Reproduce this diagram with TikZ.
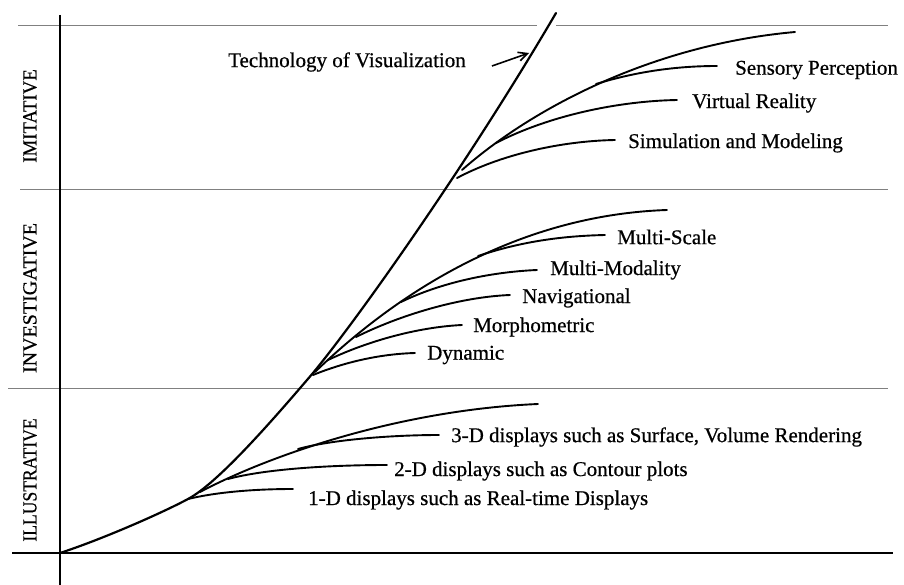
\documentclass[tikz,border=0pt]{standalone}
\usepackage{fontspec}
\setmainfont{Liberation Serif}[RawFeature={embolden=0.6}]
\usetikzlibrary{arrows.meta}
\begin{document}
\begin{tikzpicture}[x=1pt,y=-1pt,
  grid/.style={draw=black!50, line width=1pt},
  axisline/.style={draw=black, line width=1.6pt},
  trunk/.style={draw=black, line width=2.2pt, line cap=round},
  branch/.style={draw=black, line width=1.9pt, line cap=round},
  lbl/.style={anchor=west, inner sep=0pt, font=\fontsize{21}{24}\selectfont},
  band/.style={rotate=90, inner sep=0pt, font=\fontsize{20}{22}\selectfont}]
\useasboundingbox (0,0) rectangle (904,585);

% band separators, base line and vertical axis
\draw[grid] (18,26) -- (537,26);
\draw[grid] (556,26) -- (888,26);
\draw[grid] (20,190) -- (888,190);
\draw[grid] (8,388) -- (888,388);
\draw[axisline] (12,553) -- (893,553);
\draw[axisline] (60,15) -- (60,585);

% band names
\node[band] (imit) at (30,116) {\scalebox{0.94}[1]{IMITATIVE}};
\node[band] (inv)  at (30,298) {INVESTIGATIVE};
\node[band] (ill)  at (30,480) {\scalebox{0.88}[1]{ILLUSTRATIVE}};

% main growth curve, three tangent-continuous pieces
\coordinate (o)  at (60,553);
\coordinate (p1) at (188,499);
\coordinate (p2) at (313,373);
\coordinate (top) at (556,13);
\draw[trunk] (o) .. controls (100,540) and (160,514) .. (p1)
  .. controls (218,483) and (272,421) .. (p2)
  .. controls (360,316) and (470,160) .. (top);

% labels
\node[lbl] (tech) at (228,62)  {Technology of Visualization};
\node[lbl] (sens) at (735,70)  {Sensory Perception};
\node[lbl] (vr)   at (692,103) {Virtual Reality};
\node[lbl] (sim)  at (628,143) {Simulation and Modeling};
\node[lbl] (msc)  at (617,237) {Multi-Scale};
\node[lbl] (mmo)  at (550,270) {Multi-Modality};
\node[lbl] (nav)  at (522,298) {Navigational};
\node[lbl] (mor)  at (473,327) {Morphometric};
\node[lbl] (dyn)  at (427,355) {Dynamic};
\node[lbl] (d3)   at (451,437) {3-D displays such as Surface, Volume Rendering};
\node[lbl] (d2)   at (394,471) {2-D displays such as Contour plots};
\node[lbl] (d1)   at (308,500) {1-D displays such as Real-time Displays};

% arrow to the curve
\coordinate (tt) at (492,66);
\coordinate (th) at (529,53);
\draw[line width=1.6pt, -{Straight Barb[length=9pt,width=9pt]}] (tt) -- (th);

% imitative branches
\coordinate (m0) at (462,170);
\coordinate (mE) at (795,32);
\coordinate (s0) at (596,84);
\coordinate (sE) at (717,66);
\coordinate (v0) at (496,143);
\coordinate (vE) at (677,100);
\coordinate (q0) at (457,178);
\coordinate (qE) at (615,140);
\draw[branch] (m0) .. controls (530,110) and (650,45) .. (mE);
\draw[branch] (s0) .. controls (635,72) and (675,66) .. (sE);
\draw[branch] (v0) .. controls (550,115) and (620,101) .. (vE);
\draw[branch] (q0) .. controls (500,155) and (560,141) .. (qE);

% investigative branches
\coordinate (n0) at (315,372);
\coordinate (nE) at (667,210);
\coordinate (a0) at (478,256);
\coordinate (aE) at (605,235);
\coordinate (b0) at (401,302);
\coordinate (bE) at (537,270);
\coordinate (c0) at (356,337);
\coordinate (cE) at (510,295);
\coordinate (e0) at (328,360);
\coordinate (eE) at (462,325);
\coordinate (f0) at (313,375);
\coordinate (fE) at (415,353);
\draw[branch] (n0) .. controls (400,290) and (520,215) .. (nE);
\draw[branch] (a0) .. controls (520,242) and (560,236) .. (aE);
\draw[branch] (b0) .. controls (440,283) and (490,272) .. (bE);
\draw[branch] (c0) .. controls (400,315) and (460,297) .. (cE);
\draw[branch] (e0) .. controls (370,340) and (420,327) .. (eE);
\draw[branch] (f0) .. controls (345,362) and (380,354) .. (fE);

% illustrative branches
\coordinate (g0) at (200,492);
\coordinate (gE) at (538,404);
\coordinate (h0) at (298,449);
\coordinate (hE) at (439,435);
\coordinate (k0) at (228,479);
\coordinate (kE) at (387,465);
\coordinate (l0) at (188,499);
\coordinate (lE) at (293,489);
\draw[branch] (g0) .. controls (270,455) and (400,410) .. (gE);
\draw[branch] (h0) .. controls (330,440) and (390,435) .. (hE);
\draw[branch] (k0) .. controls (265,469) and (330,465) .. (kE);
\draw[branch] (l0) .. controls (217,492) and (255,489) .. (lE);
\end{tikzpicture}
\end{document}
